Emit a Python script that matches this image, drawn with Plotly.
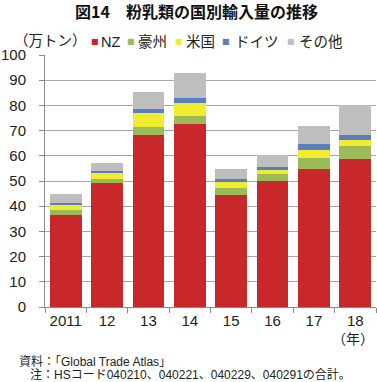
import plotly.graph_objects as go

years = ["2011", "12", "13", "14", "15", "16", "17", "18"]
series_names = ["NZ", "豪州", "米国", "ドイツ", "その他"]
nz = [36.5, 49.2, 68.4, 72.7, 44.4, 50.0, 54.8, 58.6]
aus = [2.0, 1.6, 3.1, 3.1, 2.8, 2.7, 4.4, 5.2]
usa = [2.2, 2.2, 5.4, 5.0, 2.4, 1.8, 3.1, 2.3]
ger = [0.7, 1.1, 1.5, 2.0, 1.2, 0.9, 2.3, 2.2]
oth = [3.4, 3.0, 6.9, 10.1, 4.0, 4.8, 7.2, 11.7]
colors = ["#C8282A", "#9BBB59", "#F2EC30", "#5B7EBF", "#BEBEBE"]
y_ticks = list(range(0, 101, 10))

W, H = 377, 382
L, R, T, B = 43, 1, 55, 75
PW, PH = W - L - R, H - T - B

def px(x):
    return (x - L) / PW

def py(y):
    return (H - B - y) / PH

FONT = "Liberation Sans, Noto Sans CJK JP, sans-serif"

fig = go.Figure()
for name, vals, col in zip(series_names, [nz, aus, usa, ger, oth], colors):
    fig.add_trace(go.Bar(x=years, y=vals, name=name, marker=dict(color=col, line=dict(width=0)),
                         showlegend=False))

fig.update_layout(
    width=W, height=H,
    margin=dict(l=L, r=R, t=T, b=B),
    barmode="stack", bargap=0.23,
    paper_bgcolor="white", plot_bgcolor="white",
    font=dict(family=FONT, color="#222"),
    xaxis=dict(type="category", showline=True, linecolor="#8a8a8a", linewidth=1,
               ticks="outside", tickson="boundaries", ticklen=5, tickcolor="#8a8a8a",
               tickfont=dict(size=15, color="#222"), showgrid=False),
    yaxis=dict(range=[0, 100], tickvals=y_ticks, showline=True, linecolor="#8a8a8a", linewidth=1,
               ticks="outside", ticklen=5, tickcolor="#8a8a8a", ticklabelstandoff=10,
               tickfont=dict(size=15, color="#222"),
               showgrid=True, gridcolor="#a6a6a6", gridwidth=1, zeroline=False),
)

ann = []
ann.append(dict(text="<b>図14　粉乳類の国別輸入量の推移</b>", x=px(195), y=py(11),
                font=dict(size=16, family="Noto Sans CJK JP", color="#111")))
ann.append(dict(text="（万トン）", x=px(10), y=py(41), xanchor="left",
                font=dict(size=14.5, family=FONT, color="#222")))
sq_x = [93, 130, 177.5, 225, 290]
tx_x = [97, 135, 183, 232, 297]
for name, col, sx, tx in zip(series_names, colors, sq_x, tx_x):
    ann.append(dict(text="■", x=px(sx), y=py(42), xanchor="center",
                    font=dict(size=8, color=col, family="DejaVu Sans")))
    ann.append(dict(text=name, x=px(tx), y=py(42), xanchor="left",
                    font=dict(size=14.5, family=FONT, color="#222")))
ann.append(dict(text="（年）", x=px(376), y=py(339), xanchor="right",
                font=dict(size=14, family=FONT, color="#222")))
ann.append(dict(text="資料：「Global Trade Atlas」", x=px(15), y=py(362), xanchor="left",
                font=dict(size=12, family=FONT, color="#222")))
ann.append(dict(text="注：HSコード040210、040221、040229、040291の合計。", x=px(26), y=py(374),
                xanchor="left", font=dict(size=12, family=FONT, color="#222")))
for a in ann:
    a.setdefault("xanchor", "center")
    a.update(xref="paper", yref="paper", yanchor="middle", showarrow=False)
fig.update_layout(annotations=ann)

fig.write_html("out.html", config={"displayModeBar": False},
               post_script="document.body.style.margin='0';document.body.style.overflow='hidden';")
